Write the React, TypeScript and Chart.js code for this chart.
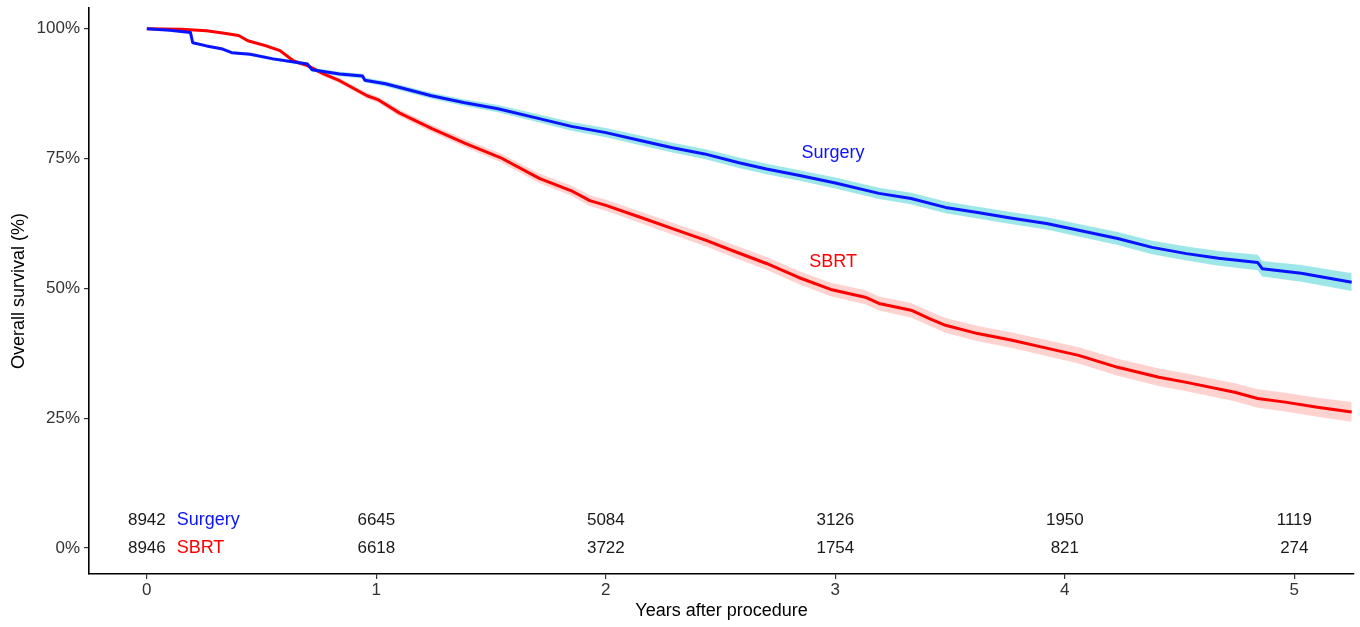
import React, { useEffect, useRef } from "react";
import { Chart, registerables } from "chart.js";

Chart.register(...registerables);

// ---- data ----
const surgeryTime = [0, 0.10, 0.19, 0.20, 0.26, 0.33, 0.37, 0.45, 0.55, 0.70, 0.72, 0.84, 0.94, 0.95, 1.04, 1.24, 1.38, 1.53, 1.71, 1.85, 2.00, 2.15, 2.29, 2.43, 2.58, 2.70, 2.85, 3.00, 3.19, 3.33, 3.48, 3.62, 3.77, 3.92, 4.06, 4.23, 4.38, 4.53, 4.67, 4.84, 4.86, 5.03, 5.25];
const surgerySurv = [100, 99.7, 99.3, 97.3, 96.7, 96.1, 95.4, 95.1, 94.2, 93.2, 92.1, 91.3, 90.9, 90.1, 89.4, 87.1, 85.8, 84.6, 82.7, 81.2, 80.0, 78.5, 77.1, 75.9, 74.2, 73.0, 71.7, 70.3, 68.3, 67.3, 65.6, 64.6, 63.5, 62.5, 61.2, 59.6, 57.9, 56.7, 55.8, 55.0, 53.8, 52.9, 51.2];
const surgeryCiHalf = [0, 0.08, 0.12, 0.13, 0.16, 0.2, 0.22, 0.26, 0.3, 0.36, 0.37, 0.42, 0.46, 0.47, 0.5, 0.58, 0.64, 0.7, 0.77, 0.83, 0.9, 0.93, 0.95, 0.97, 0.99, 1.0, 1.02, 1.05, 1.08, 1.1, 1.12, 1.14, 1.16, 1.18, 1.2, 1.25, 1.3, 1.35, 1.42, 1.5, 1.5, 1.6, 1.7];

const sbrtTime = [0, 0.15, 0.26, 0.33, 0.40, 0.44, 0.52, 0.58, 0.64, 0.70, 0.77, 0.84, 0.96, 1.01, 1.10, 1.24, 1.39, 1.54, 1.71, 1.85, 1.93, 2.00, 2.15, 2.29, 2.44, 2.55, 2.70, 2.84, 2.98, 3.13, 3.19, 3.33, 3.41, 3.48, 3.62, 3.77, 3.92, 4.06, 4.23, 4.41, 4.53, 4.74, 4.84, 4.96, 5.10, 5.25];
const sbrtSurv = [100, 99.9, 99.6, 99.2, 98.7, 97.7, 96.7, 95.8, 93.8, 92.9, 91.3, 90.0, 87.1, 86.3, 83.8, 80.8, 77.9, 75.2, 71.2, 68.8, 66.9, 66.0, 63.7, 61.5, 59.2, 57.3, 54.8, 52.1, 49.8, 48.3, 47.1, 45.8, 44.2, 42.9, 41.3, 40.0, 38.5, 37.1, 34.8, 32.9, 31.9, 30.0, 28.8, 28.1, 27.1, 26.2];
const sbrtCiHalf = [0, 0.08, 0.14, 0.18, 0.22, 0.25, 0.3, 0.33, 0.37, 0.4, 0.44, 0.48, 0.55, 0.58, 0.63, 0.7, 0.77, 0.84, 0.92, 0.98, 1.02, 1.05, 1.1, 1.14, 1.18, 1.2, 1.23, 1.26, 1.3, 1.33, 1.35, 1.38, 1.4, 1.42, 1.46, 1.5, 1.54, 1.58, 1.63, 1.68, 1.7, 1.74, 1.77, 1.8, 1.84, 1.9];

const groupNames = ["Surgery", "SBRT"];
const riskTimes = [0, 1, 2, 3, 4, 5];
const surgeryAtRisk = [8942, 6645, 5084, 3126, 1950, 1119];
const sbrtAtRisk = [8946, 6618, 3722, 1754, 821, 274];

const xTickValues = [0, 1, 2, 3, 4, 5];
const yTickValues = [0, 25, 50, 75, 100];

const xAxisTitle = "Years after procedure";
const yAxisTitle = "Overall survival (%)";

// ---- styles ----
const FONT = "'Liberation Sans', Arial, Helvetica, sans-serif";
const BLUE = "rgb(10,20,255)";
const RED = "rgb(255,0,0)";
const BLUE_BAND = "rgba(0,191,196,0.38)";
const RED_BAND = "rgba(248,118,109,0.33)";

const pts = (t: number[], v: number[]) => t.map((x, i) => ({ x, y: v[i] }));
const band = (t: number[], v: number[], h: number[], sign: number) =>
  t.map((x, i) => ({ x, y: v[i] + sign * h[i] }));

const textPlugin = {
  id: "kmText",
  afterDraw(chart: any) {
    const { ctx, scales } = chart;
    const xs = scales.x;
    const ys = scales.y;
    ctx.save();
    // curve labels
    ctx.font = `18px ${FONT}`;
    ctx.textAlign = "center";
    ctx.textBaseline = "middle";
    ctx.fillStyle = BLUE;
    ctx.fillText(groupNames[0], xs.getPixelForValue(2.99), ys.getPixelForValue(76));
    ctx.fillStyle = RED;
    ctx.fillText(groupNames[1], xs.getPixelForValue(2.99), ys.getPixelForValue(55));

    // number at risk
    const rowY = [ys.getPixelForValue(5.4), ys.getPixelForValue(0)];
    const rows = [surgeryAtRisk, sbrtAtRisk];
    ctx.font = `17px ${FONT}`;
    ctx.fillStyle = "#1a1a1a";
    ctx.textAlign = "center";
    rows.forEach((row, r) => {
      row.forEach((n, i) => {
        ctx.fillText(String(n), xs.getPixelForValue(riskTimes[i]), rowY[r]);
      });
    });
    ctx.font = `18px ${FONT}`;
    ctx.textAlign = "left";
    ctx.fillStyle = BLUE;
    ctx.fillText(groupNames[0], xs.getPixelForValue(0.13), rowY[0]);
    ctx.fillStyle = RED;
    ctx.fillText(groupNames[1], xs.getPixelForValue(0.13), rowY[1]);
    ctx.restore();
  },
};

export default function App() {
  const ref = useRef<HTMLCanvasElement>(null);

  useEffect(() => {
    document.body.style.margin = "0";
    if (!ref.current) return;
    const hidden = "rgba(0,0,0,0)";
    const chart = new Chart(ref.current, {
      type: "line",
      data: {
        datasets: [
          { label: "surgery upper", data: band(surgeryTime, surgerySurv, surgeryCiHalf, 1), borderColor: hidden, borderWidth: 0, pointRadius: 0, fill: false, order: 3 },
          { label: "surgery lower", data: band(surgeryTime, surgerySurv, surgeryCiHalf, -1), borderColor: hidden, borderWidth: 0, pointRadius: 0, fill: { target: 0 }, backgroundColor: BLUE_BAND, order: 3 },
          { label: "sbrt upper", data: band(sbrtTime, sbrtSurv, sbrtCiHalf, 1), borderColor: hidden, borderWidth: 0, pointRadius: 0, fill: false, order: 3 },
          { label: "sbrt lower", data: band(sbrtTime, sbrtSurv, sbrtCiHalf, -1), borderColor: hidden, borderWidth: 0, pointRadius: 0, fill: { target: 2 }, backgroundColor: RED_BAND, order: 3 },
          { label: "SBRT", data: pts(sbrtTime, sbrtSurv), borderColor: RED, borderWidth: 3, pointRadius: 0, fill: false, order: 1 },
          { label: "Surgery", data: pts(surgeryTime, surgerySurv), borderColor: BLUE, borderWidth: 3, pointRadius: 0, fill: false, order: 0 },
        ],
      },
      options: {
        animation: false,
        responsive: false,
        maintainAspectRatio: false,
        layout: { padding: { top: 8, right: 6, left: 0, bottom: 0 } },
        plugins: { legend: { display: false }, tooltip: { enabled: false } },
        elements: { line: { tension: 0, borderJoinStyle: "round" } },
        scales: {
          x: {
            type: "linear",
            min: -0.252,
            max: 5.26,
            afterBuildTicks: (s: any) => { s.ticks = xTickValues.map((v) => ({ value: v })); },
            afterFit: (s: any) => { s.height = 53; s.paddingLeft = 0; s.paddingRight = 0; },
            grid: { drawOnChartArea: false, drawTicks: true, tickLength: 5, color: "#333", lineWidth: 1.2 },
            border: { color: "#000", width: 1.6 },
            ticks: { color: "#333", font: { family: FONT, size: 17 }, padding: 1, maxRotation: 0, autoSkip: false },
            title: { display: true, text: xAxisTitle, color: "#000", font: { family: FONT, size: 18 }, padding: { top: 0, bottom: 5 } },
          },
          y: {
            type: "linear",
            min: -5,
            max: 104,
            afterBuildTicks: (s: any) => { s.ticks = yTickValues.map((v) => ({ value: v })); },
            afterFit: (s: any) => { s.width = 89; s.paddingTop = 0; s.paddingBottom = 0; },
            grid: { drawOnChartArea: false, drawTicks: true, tickLength: 5, color: "#333", lineWidth: 1.2 },
            border: { color: "#000", width: 1.6 },
            ticks: { color: "#333", font: { family: FONT, size: 17 }, padding: 4, callback: (v: any) => `${v}%` },
            title: { display: true, text: yAxisTitle, color: "#000", font: { family: FONT, size: 18 }, padding: { top: 8, bottom: 0 } },
          },
        },
      },
      plugins: [textPlugin],
    } as any);
    return () => chart.destroy();
  }, []);

  return <canvas ref={ref} width={1360} height={627} style={{ display: "block" }} />;
}
